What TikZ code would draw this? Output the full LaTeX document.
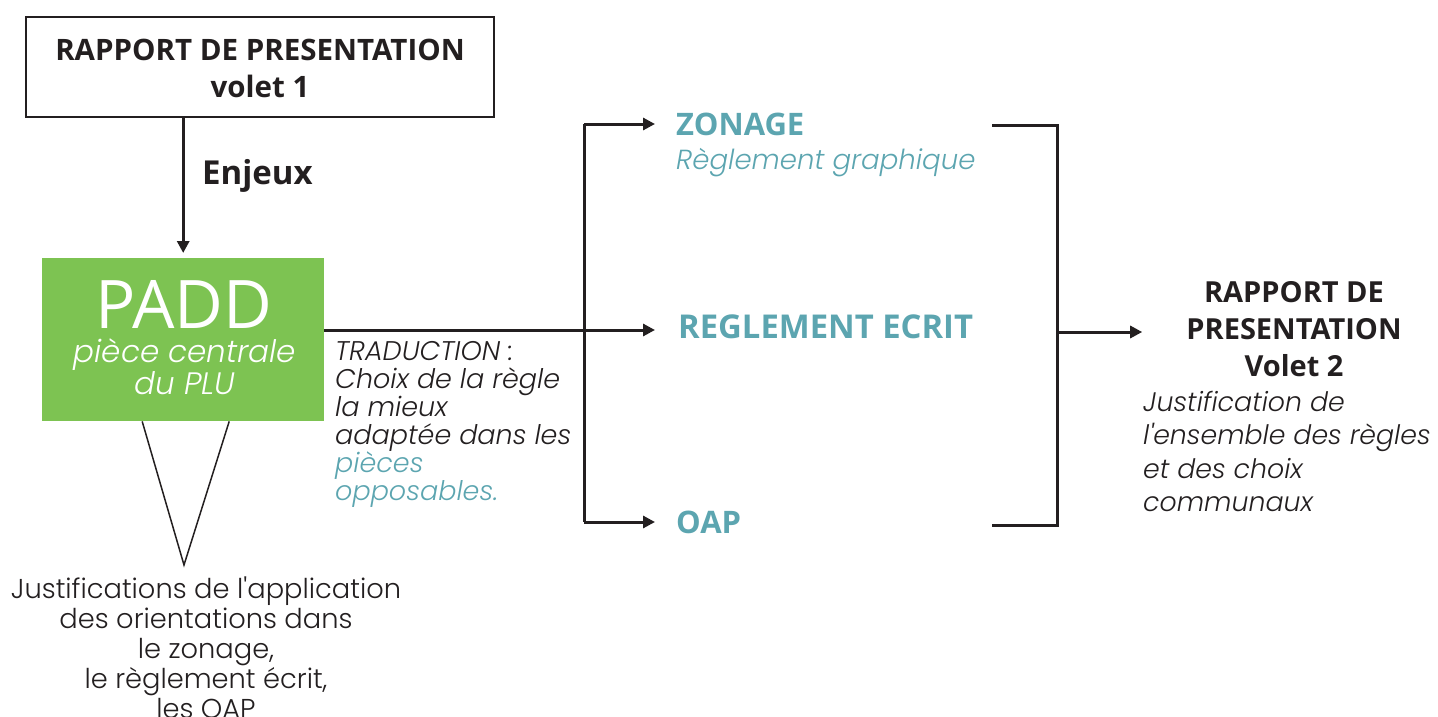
\documentclass[tikz,border=0pt]{standalone}
\usepackage{fontspec}
\setmainfont{Poppins Light}[ItalicFont={Poppins Light Italic}, Ligatures=TeXOff]
\newfontfamily\headfont{Open Sans}
\usetikzlibrary{positioning,arrows.meta}

\definecolor{ink}{HTML}{231F20}
\definecolor{paddgreen}{HTML}{7DC352}
\definecolor{piece}{HTML}{5CA5B0}

\tikzset{
  conn/.style={draw=ink, line width=3pt},
  arr/.style={conn, -{Triangle[length=12pt,width=12pt]}},
  head/.style={font=\headfont\bfseries\fontsize{28}{37}\selectfont, text=ink, inner sep=0pt},
  piecehead/.style={font=\headfont\bfseries\fontsize{31}{34}\selectfont, text=piece, inner sep=0pt},
  note/.style={font=\itshape\fontsize{27}{28}\selectfont, text=ink, inner sep=0pt, align=left},
  plain/.style={font=\fontsize{27.3}{30}\selectfont, text=ink, inner sep=0pt, align=center},
}

\begin{document}
\begin{tikzpicture}[x=1pt, y=-1pt]
  \useasboundingbox (0,0) rectangle (1438,717);
  %
  \node[draw=ink, line width=2pt, minimum width=468pt, minimum height=100pt,
        anchor=north west] (rp1) at (25,16) {};                  % volet 1
  \node[head, align=center, anchor=north, font=\headfont\bfseries\fontsize{29.5}{37}\selectfont]
        (rp1txt) at (rp1.north |- 0,39) {RAPPORT DE PRESENTATION\\volet 1};
  %
  \node[fill=paddgreen, minimum width=282pt, minimum height=163pt,
        anchor=north west] (padd) at (42,258) {};                % PADD
  \node[font=\headfont\fontsize{67}{67}\selectfont, text=white, inner sep=0pt,
        anchor=base] (paddname) at (184,328) {PADD};
  \node[font=\itshape\fontsize{31}{32}\selectfont, text=white, inner sep=0pt,
        align=center, anchor=north] (paddsub) at (185,338) {pièce centrale\\du PLU};
  %
  \draw[arr, shorten >=5pt] (padd.north |- rp1.south) -- (padd.north);
  \node[head, anchor=west, font=\headfont\bfseries\fontsize{33}{37}\selectfont] (enjeux) at (202,176) {Enjeux};
  %
  \coordinate (apex) at (184,565);                               % triangle
  \draw[ink, line width=1.5pt] ([xshift=-41pt]padd.south) -- (apex) -- ([xshift=46pt]padd.south);
  \node[plain, anchor=north] (justif) at (206,577)
        {Justifications de l'application\\des orientations dans\\le zonage,\\le règlement écrit,\\les OAP};
  %
  \node[note, anchor=north west] (trad) at (335,341)
        {TRADUCTION :\\Choix de la règle\\la mieux\\adaptée dans les\\\textcolor{piece}{pièces}\\\textcolor{piece}{opposables.}};
  %
  \node[piecehead, anchor=west] (zon) at (676,124) {ZONAGE};     % pieces opposables
  \node[note, text=piece, anchor=north west, font=\itshape\fontsize{27.6}{28}\selectfont] (zong) at (676,148) {Règlement graphique};
  \node[piecehead, anchor=west, font=\headfont\bfseries\fontsize{32.8}{34}\selectfont] (regl) at (678,327) {REGLEMENT ECRIT};
  \node[piecehead, anchor=west] (oap) at (676,522) {OAP};
  %
  \coordinate (fork) at (584,330);
  \draw[arr] (padd.east |- fork) -- ([xshift=-23pt]regl.west |- fork);
  \draw[arr] (fork |- zon.west) -- ([xshift=-21pt]zon.west);
  \draw[conn] (fork |- zon.west) -- (fork |- oap.west);
  \draw[arr] (fork |- oap.west) -- ([xshift=-21pt]oap.west);
  %
  \coordinate (brtop) at (992,125);                              % bracket
  \coordinate (brbot) at (992,525);
  \coordinate (brmid) at (1057,332);
  \draw[conn] (brtop) -- (brtop -| brmid) -- (brbot -| brmid) -- (brbot);
  %
  \node[head, align=center, anchor=north, font=\headfont\bfseries\fontsize{29}{37}\selectfont]
        (rp2) at (1294,281) {RAPPORT DE\\PRESENTATION\\Volet 2};  % volet 2
  \node[note, anchor=north west, font=\itshape\fontsize{26.8}{33.5}\selectfont] (rp2txt) at (1143,391)
        {Justification de\\l'ensemble des règles\\et des choix\\communaux};
  \draw[arr] (brmid) -- ([xshift=-44pt]rp2.west |- brmid);
\end{tikzpicture}
\end{document}
